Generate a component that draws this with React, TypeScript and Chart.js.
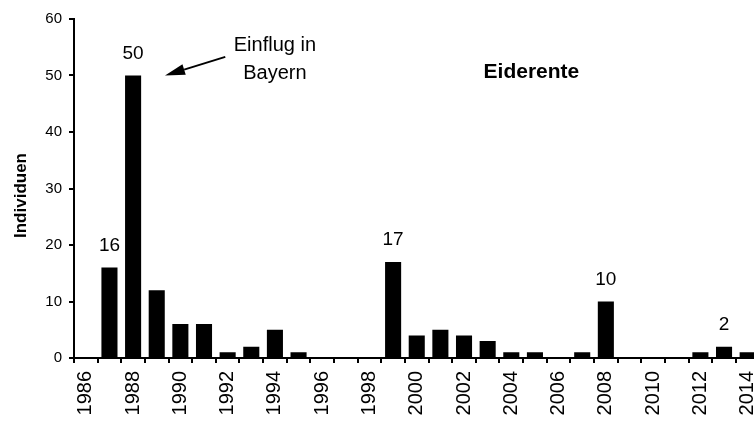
import React, { useEffect, useRef } from 'react';
import { Chart, registerables } from 'chart.js';

Chart.register(...registerables);

const years = [
  '1986', '1987', '1988', '1989', '1990', '1991', '1992', '1993', '1994', '1995',
  '1996', '1997', '1998', '1999', '2000', '2001', '2002', '2003', '2004', '2005',
  '2006', '2007', '2008', '2009', '2010', '2011', '2012', '2013', '2014',
];
const counts = [
  0, 16, 50, 12, 6, 6, 1, 2, 5, 1,
  0, 0, 0, 17, 4, 5, 4, 3, 1, 1,
  0, 1, 10, 0, 0, 0, 1, 2, 1,
];
const labeledYears = ['1987', '1988', '1999', '2008', '2013'];
const yMin = 0;
const yMax = 60;
const yStep = 10;

const chartTitle = 'Eiderente';
const yTitle = 'Individuen';
const noteLines = ['Einflug in', 'Bayern'];
// annotation anchors in data units (year, value)
const noteAt = { year: 1994.0, value: 54.3 };
const arrowFrom = { year: 1991.9, value: 53.3 };
const arrowTo = { year: 1989.35, value: 50 };
const titleAt = { year: 2004.85, value: 49.6 };

const FONT = "'Liberation Sans', Arial, Helvetica, sans-serif";

const overlayPlugin = {
  id: 'overlay',
  afterDatasetsDraw(chart: any) {
    const ctx = chart.ctx;
    const xs = chart.scales.x;
    const ys = chart.scales.y;
    const xOf = (year: number) => xs.getPixelForValue(year - Number(years[0]));
    const yOf = (v: number) => ys.getPixelForValue(v);
    ctx.save();
    ctx.fillStyle = '#000';
    ctx.strokeStyle = '#000';

    // value labels
    ctx.font = `19px ${FONT}`;
    ctx.textAlign = 'center';
    ctx.textBaseline = 'alphabetic';
    labeledYears.forEach((yr) => {
      const i = years.indexOf(yr);
      const v = counts[i];
      ctx.fillText(String(v), xs.getPixelForValue(i), yOf(v) - 16.5);
    });

    // note text
    const nx = xOf(noteAt.year);
    const ny = yOf(noteAt.value);
    ctx.font = `20px ${FONT}`;
    noteLines.forEach((line, k) => {
      ctx.fillText(line, nx, ny + k * 27.5);
    });

    // arrow
    const x1 = xOf(arrowFrom.year);
    const y1 = yOf(arrowFrom.value);
    const x2 = xOf(arrowTo.year);
    const y2 = yOf(arrowTo.value);
    const ang = Math.atan2(y2 - y1, x2 - x1);
    const headLen = 20;
    const headHalf = 5.5;
    const bx = x2 - headLen * Math.cos(ang);
    const by = y2 - headLen * Math.sin(ang);
    ctx.lineWidth = 2;
    ctx.beginPath();
    ctx.moveTo(x1, y1);
    ctx.lineTo(bx, by);
    ctx.stroke();
    ctx.beginPath();
    ctx.moveTo(x2, y2);
    ctx.lineTo(bx + headHalf * Math.sin(ang), by - headHalf * Math.cos(ang));
    ctx.lineTo(bx - headHalf * Math.sin(ang), by + headHalf * Math.cos(ang));
    ctx.closePath();
    ctx.fill();

    // chart title
    ctx.font = `bold 21px ${FONT}`;
    ctx.fillText(chartTitle, xOf(titleAt.year), yOf(titleAt.value));

    // y axis title
    const area = chart.chartArea;
    ctx.font = `bold 17px ${FONT}`;
    ctx.translate(21, (area.top + area.bottom) / 2 + 7);
    ctx.rotate(-Math.PI / 2);
    ctx.textBaseline = 'middle';
    ctx.fillText(yTitle, 0, 0);
    ctx.restore();
  },
};

export default function App() {
  const ref = useRef<HTMLCanvasElement | null>(null);
  useEffect(() => {
    if (!ref.current) return;
    const chart = new Chart(ref.current, {
      type: 'bar',
      data: {
        labels: years,
        datasets: [
          {
            data: counts,
            backgroundColor: '#000',
            borderWidth: 0,
            barPercentage: 0.68,
            categoryPercentage: 1.0,
          },
        ],
      },
      options: {
        responsive: false,
        animation: false,
        devicePixelRatio: 1,
        layout: { padding: { left: 0, top: 19, right: 19, bottom: 0 } },
        plugins: { legend: { display: false }, tooltip: { enabled: false }, title: { display: false } },
        scales: {
          x: {
            grid: {
              display: true,
              drawOnChartArea: false,
              drawTicks: true,
              tickLength: 5,
              color: '#000',
              lineWidth: 2,
              offset: true,
            },
            border: { display: true, color: '#000', width: 2 },
            ticks: {
              autoSkip: false,
              maxRotation: 90,
              minRotation: 90,
              padding: 8,
              color: '#000',
              font: { family: FONT, size: 20 },
              callback: (_v: any, i: number) => (i % 2 === 0 ? years[i] : ''),
            },
            afterFit: (s: any) => {
              s.height = 65;
            },
          },
          y: {
            min: yMin,
            max: yMax,
            grid: { drawOnChartArea: false, drawTicks: true, tickLength: 5, color: '#000', lineWidth: 2 },
            border: { display: true, color: '#000', width: 2 },
            ticks: { stepSize: yStep, padding: 7, color: '#000', font: { family: FONT, size: 15 } },
            afterFit: (s: any) => {
              s.width = 74;
            },
          },
        },
      } as any,
      plugins: [overlayPlugin],
    });
    return () => chart.destroy();
  }, []);
  return (
    <div
      style={{
        position: 'absolute',
        left: 0,
        top: 0,
        width: 754,
        height: 423,
        overflow: 'hidden',
        background: '#fff',
      }}
    >
      <canvas ref={ref} width={780} height={423} style={{ display: 'block' }} />
    </div>
  );
}
